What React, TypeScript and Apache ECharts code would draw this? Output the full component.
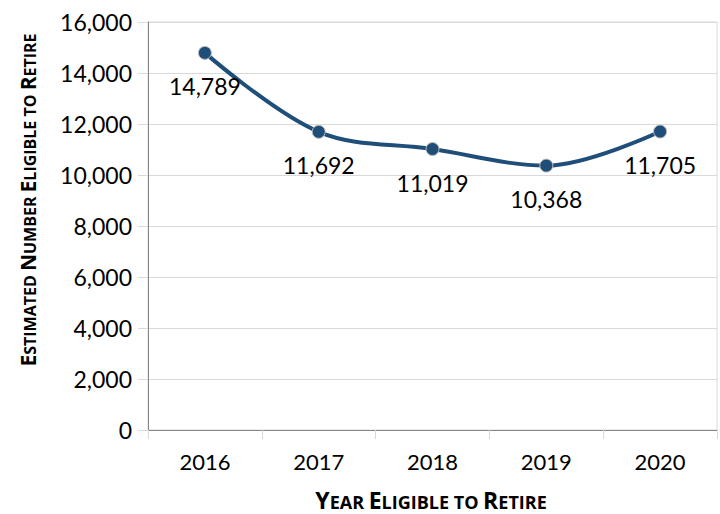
import React, { useEffect, useRef } from "react";
import * as echarts from "echarts";

const years = ["2016", "2017", "2018", "2019", "2020"];
const eligible = [14789, 11692, 11019, 10368, 11705];
const yTicks = [0, 2000, 4000, 6000, 8000, 10000, 12000, 14000, 16000];

const FONT = "Lato, 'Open Sans', sans-serif";
const NAME_FONT = "'Open Sans', Lato, sans-serif";

const fmt = (v: number) => v.toLocaleString("en-US");

export default function App() {
  const ref = useRef<HTMLDivElement>(null);
  useEffect(() => {
    if (!ref.current) return;
    const chart = echarts.init(ref.current, undefined, { renderer: "svg" });
    const mk = (size: number) => ({ fontFamily: NAME_FONT, fontWeight: "bold", fontSize: size, color: "#000", verticalAlign: "bottom", lineHeight: 26 });
    chart.setOption({
      animation: false,
      backgroundColor: "#fff",
      grid: {
        left: 148,
        right: 3,
        top: 22,
        bottom: 84,
        show: true,
        borderColor: "#d9d9d9",
        borderWidth: 1,
      },
      xAxis: {
        type: "category",
        data: years,
        boundaryGap: true,
        axisLine: { show: true, lineStyle: { color: "#868686", width: 1 } },
        axisTick: { show: true, length: 9, lineStyle: { color: "#d9d9d9" } },
        axisLabel: { fontFamily: FONT, fontSize: 22, color: "#000", margin: 20 },
        splitLine: { show: false },
      },
      yAxis: {
        type: "value",
        min: yTicks[0],
        max: yTicks[yTicks.length - 1],
        interval: 2000,
        axisLine: { show: true, lineStyle: { color: "#868686", width: 1 } },
        axisTick: { show: true, length: 10, lineStyle: { color: "#d9d9d9" } },
        axisLabel: {
          fontFamily: FONT,
          fontSize: 23,
          color: "#000",
          margin: 16,
          formatter: (v: number) => fmt(v),
        },
        splitLine: { show: true, lineStyle: { color: "#d9d9d9", width: 1 } },
      },
      graphic: [
        {
          type: "text",
          x: 25,
          y: 200,
          rotation: Math.PI / 2,
          style: {
            text: "{b|E}{s|STIMATED }{b|N}{s|UMBER }{b|E}{s|LIGIBLE TO }{b|R}{s|ETIRE}",
            align: "center",
            verticalAlign: "middle",
            rich: { b: mk(21), s: mk(16) },
          },
        },
        {
          type: "text",
          x: 431,
          y: 498,
          style: {
            text: "{b|Y}{s|EAR }{b|E}{s|LIGIBLE TO }{b|R}{s|ETIRE}",
            align: "center",
            verticalAlign: "middle",
            rich: { b: mk(23), s: mk(18) },
          },
        },
      ],
      series: [
        {
          type: "line",
          data: eligible,
          smooth: 0.35,
          symbol: "circle",
          symbolSize: 13,
          lineStyle: { color: "#1f4e79", width: 4 },
          itemStyle: { color: "#1f4e79", borderColor: "#bfbfbf", borderWidth: 1 },
          label: {
            show: true,
            position: "bottom",
            distance: 15,
            fontFamily: FONT,
            fontSize: 23,
            color: "#000",
            formatter: (p: any) => fmt(p.value),
          },
        },
      ],
    });
    return () => chart.dispose();
  }, []);
  return <div ref={ref} style={{ width: 720, height: 514, position: "fixed", left: 0, top: 0 }} />;
}
